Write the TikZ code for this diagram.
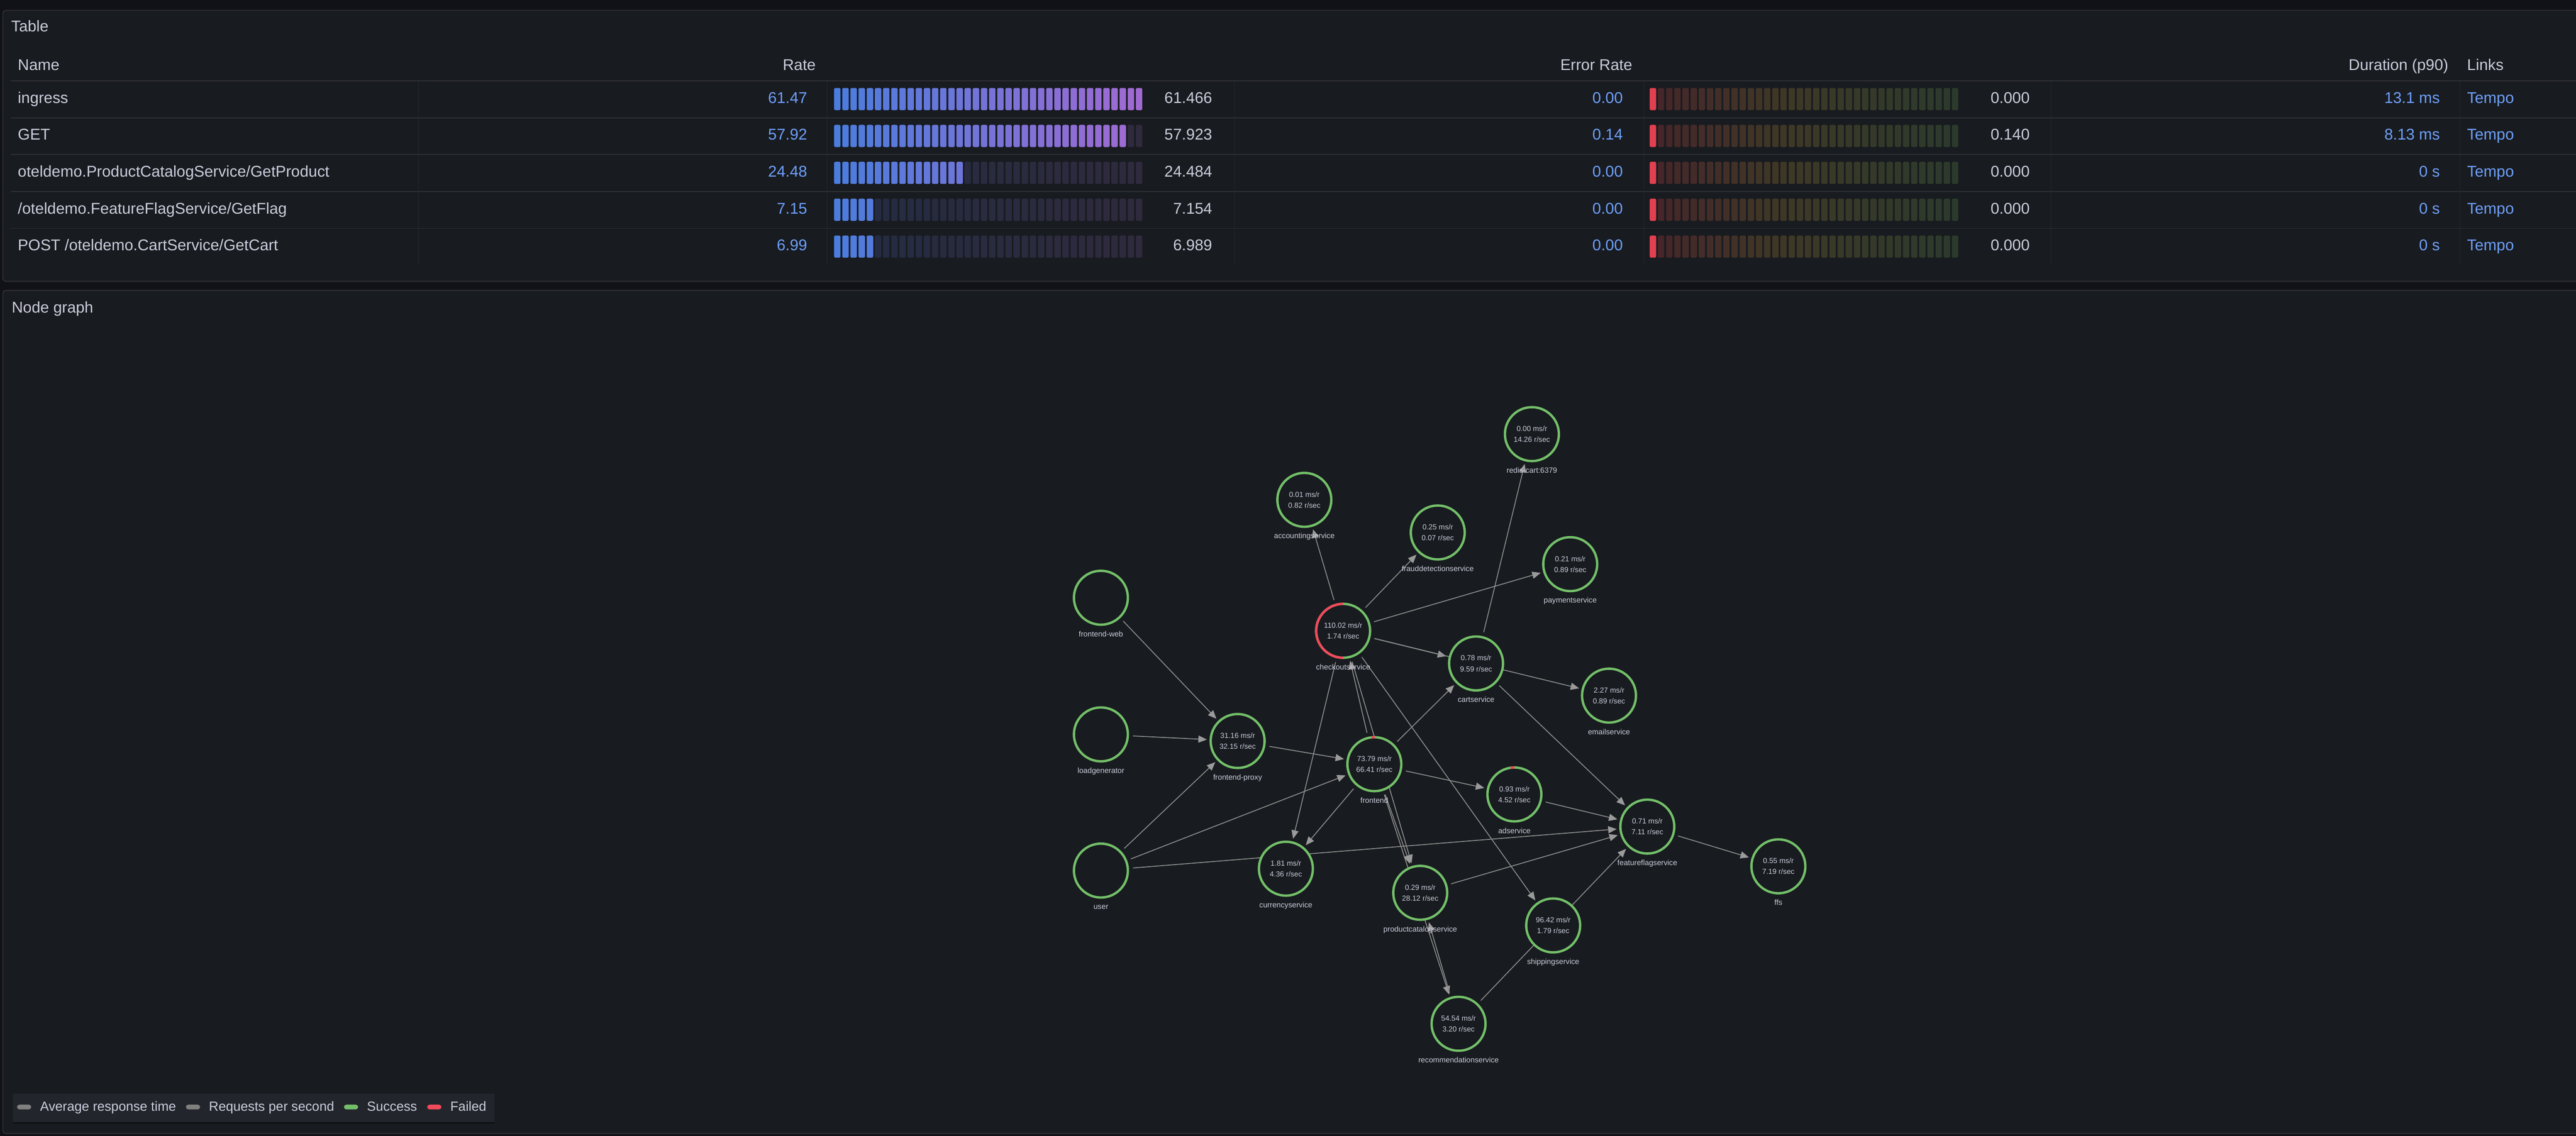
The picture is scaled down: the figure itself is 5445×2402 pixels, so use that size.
\documentclass[tikz,border=0pt]{standalone}
\usepackage{fontspec}
\setmainfont{Liberation Sans}
\usetikzlibrary{arrows.meta}
\pgfdeclarelayer{bglayer}
\pgfdeclarelayer{edgelayer}
\pgfsetlayers{bglayer,edgelayer,main}

\definecolor{pagebg}{HTML}{111217}
\definecolor{panelbg}{HTML}{181B1F}
\definecolor{panelline}{HTML}{2E3036}
\definecolor{rowline}{HTML}{2E3036}
\definecolor{colline}{HTML}{25282D}
\definecolor{txt}{HTML}{CCCCDC}
\definecolor{linktxt}{HTML}{6E9FFF}
\definecolor{okgreen}{HTML}{73BF69}
\definecolor{failred}{HTML}{F2495C}
\definecolor{edgegray}{HTML}{8E8E8E}
\definecolor{arrowgray}{HTML}{9A9A9A}
\definecolor{legendbg}{HTML}{22252B}
\definecolor{swgray}{HTML}{808080}
\definecolor{rateL}{HTML}{4A7DDE}
\definecolor{rateR}{HTML}{A06AD2}
\definecolor{rateUL}{HTML}{232C42}
\definecolor{rateUR}{HTML}{2F2A3D}
\definecolor{errLit}{HTML}{E0404F}
\definecolor{errUA}{HTML}{46252A}
\definecolor{errUB}{HTML}{3E3826}
\definecolor{errUC}{HTML}{2B3A2B}

\newcommand\mytabfont{\fontsize{8.25}{10}\selectfont}
\newcommand\mystatfont{\fontsize{3.875}{5.75}\selectfont}
\newcommand\mylblfont{\fontsize{4}{5}\selectfont}
\newcommand\mylegfont{\fontsize{7}{8.5}\selectfont}

\tikzset{
  svcnode/.style={circle, draw=okgreen, line width=1.25pt, fill=panelbg,
    minimum size=28.5pt, inner sep=0pt, outer sep=0pt, align=center,
    text=txt, font=\mystatfont},
  lbl/.style={inner sep=0pt, text=txt, font=\mylblfont},
  conn/.style={draw=edgegray, line width=0.45pt, shorten <=2.75pt, shorten >=2pt,
    -{Triangle[length=4.5pt,width=3.75pt,color=arrowgray]}},
  tabtxt/.style={inner sep=0pt, text=txt, font=\mytabfont},
  tablink/.style={inner sep=0pt, text=linktxt, font=\mytabfont},
  legtxt/.style={inner sep=0pt, text=txt, font=\mylegfont, anchor=base west},
  swatch/.style={rounded corners=1.25pt},
}

\newcommand\mysvc[5]{%
  \node[svcnode] (#1) at (#2,#3) {#4};
  \node[lbl, anchor=base] (#1-lbl) at (#2,#3+82) {#5};
}

\newcommand\tabrow[8]{%
  \pgfmathsetmacro\myrb{218+78*(#1-1)}%
  \pgfmathsetmacro\myrt{186+78*(#1-1)}%
  \node[tabtxt, anchor=base west] (nm#1) at (37,\myrb) {#2};
  \node[tablink, anchor=base east] (rt#1) at (1707,\myrb) {#3};
  \foreach \i in {0,...,37}{%
    \pgfmathsetmacro\mycx{1763+\i*17.24}%
    \pgfmathtruncatemacro\mypc{100-\i*100/37}%
    \ifnum\i<#4\relax
      \path[fill={rateL!\mypc!rateR}, rounded corners=0.75pt] (\mycx,\myrt) rectangle ++(13.6,47);
    \else
      \path[fill={rateUL!\mypc!rateUR}, rounded corners=0.75pt] (\mycx,\myrt) rectangle ++(13.6,47);
    \fi
  }
  \node[tabtxt, anchor=base east] (rv#1) at (2563,\myrb) {#5};
  \node[tablink, anchor=base east] (er#1) at (3431,\myrb) {#6};
  \path[fill=errLit, rounded corners=0.75pt] (3487,\myrt) rectangle ++(13.6,47);
  \foreach \i in {1,...,37}{%
    \pgfmathsetmacro\mycx{3487+\i*17.26}%
    \ifnum\i<17\relax
      \pgfmathtruncatemacro\mypc{100-\i*100/16.65}%
      \path[fill={errUA!\mypc!errUB}, rounded corners=0.75pt] (\mycx,\myrt) rectangle ++(13.6,47);
    \else
      \pgfmathtruncatemacro\mypc{100-(\i-16.65)*100/20.35}%
      \path[fill={errUB!\mypc!errUC}, rounded corners=0.75pt] (\mycx,\myrt) rectangle ++(13.6,47);
    \fi
  }
  \node[tabtxt, anchor=base east] (ev#1) at (4291,\myrb) {#7};
  \node[tablink, anchor=base east] (du#1) at (5158,\myrb) {#8};
  \node[tablink, anchor=base west] (lk#1) at (5214,\myrb) {Tempo};
}

\begin{document}
\begin{tikzpicture}[x=0.25pt,y=-0.25pt]
\useasboundingbox (0,0) rectangle (5445,2402);

\begin{pgfonlayer}{bglayer}
  \fill[pagebg] (0,0) rectangle (5445,2402);
  \draw[draw=panelline, fill=panelbg, line width=0.5pt, rounded corners=1.5pt] (6,22) rectangle (5480,595);
  \draw[draw=panelline, fill=panelbg, line width=0.5pt, rounded corners=1.5pt] (6,614) rectangle (5480,2397);
\end{pgfonlayer}

% ---------------- Table panel ----------------
\node[tabtxt, anchor=base west] (ttable) at (23,67) {Table};
\node[tabtxt, anchor=base west] (hname) at (37,149) {Name};
\node[tabtxt, anchor=base east] (hrate) at (1725,149) {Rate};
\node[tabtxt, anchor=base east] (herr) at (3451,149) {Error Rate};
\node[tabtxt, anchor=base east] (hdur) at (5176,149) {Duration (p90)};
\node[tabtxt, anchor=base west] (hlinks) at (5214,149) {Links};

\foreach \yy in {171,249,327,405,483}{
  \draw[rowline, line width=0.5pt] (23,\yy) -- (5460,\yy);
}
\foreach \xx in {885,1748,2610,3474,4335,5199}{
  \draw[colline, line width=0.3pt] (\xx,172) -- (\xx,559);
}

\tabrow{1}{ingress}{61.47}{38}{61.466}{0.00}{0.000}{13.1 ms}
\tabrow{2}{GET}{57.92}{36}{57.923}{0.14}{0.140}{8.13 ms}
\tabrow{3}{oteldemo.ProductCatalogService/GetProduct}{24.48}{16}{24.484}{0.00}{0.000}{0 s}
\tabrow{4}{/oteldemo.FeatureFlagService/GetFlag}{7.15}{5}{7.154}{0.00}{0.000}{0 s}
\tabrow{5}{POST /oteldemo.CartService/GetCart}{6.99}{5}{6.989}{0.00}{0.000}{0 s}

% ---------------- Node graph panel ----------------
\node[tabtxt, anchor=base west] (tnode) at (24,662) {Node graph};

\mysvc{redis}{3238}{918}{0.00 ms/r\\14.26 r/sec}{redis-cart:6379}
\mysvc{accounting}{2757}{1057}{0.01 ms/r\\0.82 r/sec}{accountingservice}
\mysvc{fraud}{3039}{1126}{0.25 ms/r\\0.07 r/sec}{frauddetectionservice}
\mysvc{payment}{3319}{1193}{0.21 ms/r\\0.89 r/sec}{paymentservice}
\mysvc{fweb}{2327}{1264}{}{frontend-web}
\mysvc{checkout}{2839}{1334}{110.02 ms/r\\1.74 r/sec}{checkoutservice}
\mysvc{cart}{3120}{1403}{0.78 ms/r\\9.59 r/sec}{cartservice}
\mysvc{email}{3401}{1471}{2.27 ms/r\\0.89 r/sec}{emailservice}
\mysvc{loadgen}{2327}{1553}{}{loadgenerator}
\mysvc{proxy}{2616}{1567}{31.16 ms/r\\32.15 r/sec}{frontend-proxy}
\mysvc{frontend}{2905}{1616}{73.79 ms/r\\66.41 r/sec}{frontend}
\mysvc{ad}{3201}{1680}{0.93 ms/r\\4.52 r/sec}{adservice}
\mysvc{ff}{3482}{1748}{0.71 ms/r\\7.11 r/sec}{featureflagservice}
\mysvc{ffs}{3759}{1832}{0.55 ms/r\\7.19 r/sec}{ffs}
\mysvc{user}{2327}{1841}{}{user}
\mysvc{currency}{2718}{1837}{1.81 ms/r\\4.36 r/sec}{currencyservice}
\mysvc{catalog}{3002}{1888}{0.29 ms/r\\28.12 r/sec}{productcatalogservice}
\mysvc{shipping}{3283}{1957}{96.42 ms/r\\1.79 r/sec}{shippingservice}
\mysvc{recommend}{3083}{2165}{54.54 ms/r\\3.20 r/sec}{recommendationservice}

% failed arcs
\draw[failred, line width=1.25pt] ([shift={(90:14.25pt)}]checkout.center) arc[start angle=90, end angle=270, radius=14.25pt];
\draw[failred, line width=1.25pt] ([shift={(89:14.25pt)}]frontend.center) arc[start angle=89, end angle=96, radius=14.25pt];
\draw[failred, line width=1.25pt] ([shift={(90:14.25pt)}]ad.center) arc[start angle=90, end angle=98, radius=14.25pt];

\begin{pgfonlayer}{edgelayer}
  \draw[conn] (fweb) -- (proxy);
  \draw[conn] (loadgen) -- (proxy);
  \draw[conn] (user) -- (proxy);
  \draw[conn] (user) -- (frontend);
  \draw[conn] (user) -- (ff);
  \draw[conn] (proxy) -- (frontend);
  \draw[conn] (frontend) -- (checkout);
  \draw[conn] (frontend) -- (cart);
  \draw[conn] (frontend) -- (ad);
  \draw[conn] (frontend) -- (currency);
  \draw[conn] (frontend) -- (catalog);
  \draw[conn] (frontend) -- (recommend);
  \draw[conn] (checkout) -- (accounting);
  \draw[conn] (checkout) -- (fraud);
  \draw[conn] (checkout) -- (payment);
  \draw[conn] (checkout) -- (cart);
  \draw[conn] (checkout) -- (email);
  \draw[conn] (checkout) -- (currency);
  \draw[conn] (checkout) -- (catalog);
  \draw[conn] (checkout) -- (shipping);
  \draw[conn] (cart) -- (redis);
  \draw[conn] (cart) -- (ff);
  \draw[conn] (ad) -- (ff);
  \draw[conn] (catalog) -- (ff);
  \draw[conn] (recommend) -- (catalog);
  \draw[conn] (recommend) -- (ff);
  \draw[conn] (ff) -- (ffs);
\end{pgfonlayer}

% legend
\fill[black, opacity=0.35] (27,2316) rectangle (1045,2376);
\fill[legendbg] (27,2313) rectangle (1045,2373);
\fill[swgray, swatch] (36,2336) rectangle (66,2346);
\node[legtxt] (lg1) at (84,2350) {Average response time};
\fill[swgray, swatch] (393,2336) rectangle (423,2346);
\node[legtxt] (lg2) at (441,2350) {Requests per second};
\fill[okgreen, swatch] (727,2336) rectangle (757,2346);
\node[legtxt] (lg3) at (775,2350) {Success};
\fill[failred, swatch] (903,2336) rectangle (933,2346);
\node[legtxt] (lg4) at (951,2350) {Failed};
\end{tikzpicture}
\end{document}
